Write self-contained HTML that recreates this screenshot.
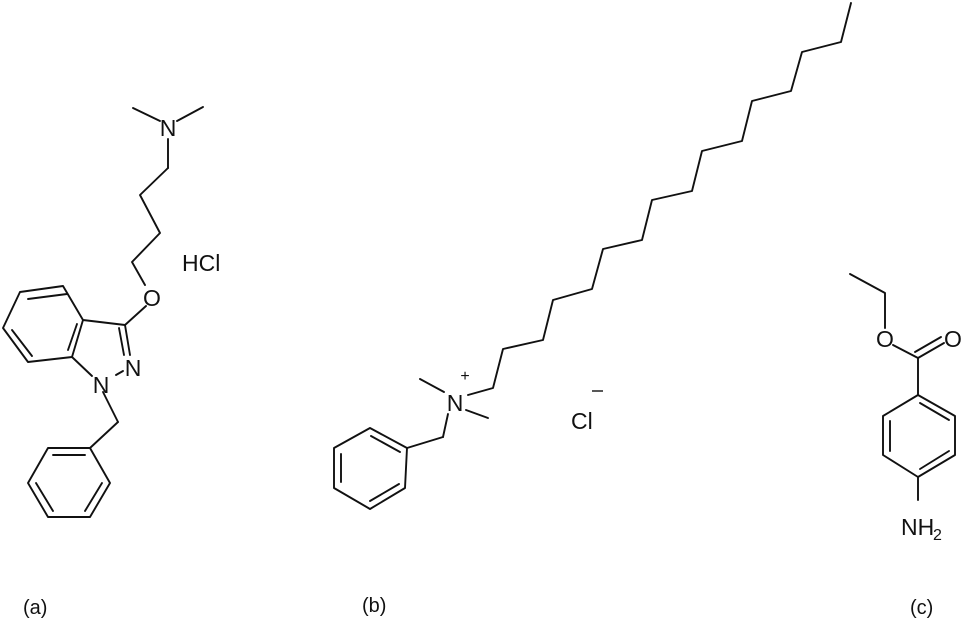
<!DOCTYPE html>
<html><head><style>body{margin:0;background:#fff}svg{display:block}text{font-family:"Liberation Sans",Arial,sans-serif;fill:#111}</style></head>
<body>
<svg width="967" height="628" viewBox="0 0 967 628" xmlns="http://www.w3.org/2000/svg">
<g stroke="#111" stroke-width="1.9" fill="none" stroke-linejoin="round" stroke-linecap="round">
<!-- (a) -->
<line x1="133" y1="108" x2="160" y2="121"/>
<line x1="203" y1="107" x2="177" y2="121"/>
<line x1="168" y1="139" x2="168" y2="168"/>
<polyline points="168,168 140,195 160,233 132,262 145,285"/>
<line x1="146" y1="306" x2="125" y2="325"/>
<polyline points="125,325 83,320 63,286 20,292 3,328 28,362 72,357 83,320"/>
<line x1="67" y1="294" x2="28" y2="299"/>
<line x1="12" y1="330" x2="32" y2="356"/>
<line x1="68" y1="350" x2="77" y2="324"/>
<line x1="125" y1="325" x2="130" y2="355"/>
<line x1="119" y1="328" x2="124" y2="355"/>
<line x1="72" y1="357" x2="92" y2="376"/>
<line x1="116" y1="375" x2="123" y2="371"/>
<line x1="103" y1="392" x2="118" y2="422"/>
<line x1="118" y1="422" x2="90" y2="448"/>
<polygon points="90,448 48,448 28,483 48,517 90,517 110,483"/>
<line x1="53" y1="455" x2="85" y2="455"/>
<line x1="36" y1="483" x2="53" y2="511"/>
<line x1="85" y1="511" x2="102" y2="483"/>
<!-- (b) -->
<line x1="420" y1="379" x2="444" y2="392"/>
<line x1="466" y1="410" x2="488" y2="418"/>
<polyline points="468,395 493,388 503,349 543,340 553,300 592,289 603,249 642,240 652,200 692,191 702,151 742,141 752,101 791,91 802,52 841,42 851,3"/>
<line x1="448" y1="414" x2="443" y2="437"/>
<line x1="443" y1="437" x2="407" y2="448"/>
<polygon points="407,448 370,428 334,448 334,488 370,509 405,488"/>
<line x1="341" y1="454" x2="341" y2="482"/>
<line x1="370" y1="501" x2="399" y2="484"/>
<line x1="371" y1="436" x2="400" y2="452"/>
<line x1="592" y1="391" x2="603" y2="391" stroke-width="1.4" stroke-linecap="butt"/>
<!-- (c) -->
<polyline points="850,274 885,293 885,328"/>
<line x1="893" y1="345" x2="918" y2="358"/>
<line x1="918" y1="358" x2="944" y2="343"/>
<line x1="915" y1="352" x2="941" y2="337"/>
<line x1="918" y1="358" x2="918" y2="395"/>
<polygon points="918,395 955,416 955,455 918,477 883,455 883,416"/>
<line x1="920" y1="403" x2="949" y2="420"/>
<line x1="890" y1="421" x2="890" y2="451"/>
<line x1="920" y1="469" x2="949" y2="451"/>
<line x1="918" y1="477" x2="918" y2="500"/>
</g>
<g font-size="23">
<text x="168" y="136" text-anchor="middle">N</text>
<text x="152" y="306" text-anchor="middle">O</text>
<text x="133" y="376" text-anchor="middle">N</text>
<text x="101" y="393" text-anchor="middle">N</text>
<text x="182" y="271">HCl</text>
<text x="455" y="411" text-anchor="middle">N</text>
<text x="465" y="381" font-size="16" text-anchor="middle">+</text>
<text x="571" y="429">Cl</text>
<text x="885" y="347" text-anchor="middle">O</text>
<text x="953" y="347" text-anchor="middle">O</text>
<text x="901" y="535">NH</text>
<text x="933" y="540" font-size="16">2</text>
</g>
<g font-size="20">
<text x="23" y="614">(a)</text>
<text x="362" y="612">(b)</text>
<text x="910" y="614">(c)</text>
</g>
</svg>
</body></html>
